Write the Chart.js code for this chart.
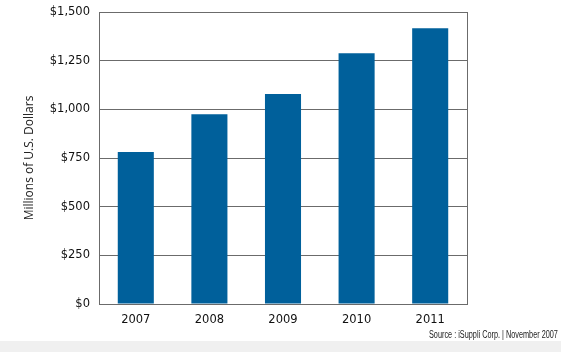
<!DOCTYPE html>
<html>
<head>
<meta charset="utf-8">
<script src="https://cdn.jsdelivr.net/npm/chart.js@4"></script>
<style>
    body { margin: 0; }
    #wrap {
        position: relative;
        width: 561px;
        height: 352px;
        background: linear-gradient(#ffffff 341px, #f0f0f0 341px);
    }
    #source {
        position: absolute;
        left: 429px;
        top: 329px;
        font-family: "Liberation Sans", sans-serif;
        font-size: 10px;
        color: #222;
        white-space: nowrap;
        transform: scaleX(0.73);
        transform-origin: left top;
    }
</style>
</head>
<body>
<div id="wrap">
    <canvas id="bar-chart" width="561" height="352"></canvas>
    <div id="source">Source : iSuppli Corp. | November 2007</div>
</div>
<script>
// Chart data
const years = ['2007', '2008', '2009', '2010', '2011'];
const revenue = [781, 975, 1079, 1288, 1416];
const yTicks = [0, 250, 500, 750, 1000, 1250, 1500];

// Box around the plot area
const frame = {
    id: 'frame',
    afterDraw(chart) {
        const a = chart.chartArea;
        const ctx = chart.ctx;
        ctx.save();
        ctx.strokeStyle = '#6b6b6b';
        ctx.lineWidth = 1;
        ctx.strokeRect(Math.round(a.left) + 0.5, Math.round(a.top) + 0.5,
            Math.round(a.right - a.left), Math.round(a.bottom - a.top));
        ctx.restore();
    }
};

new Chart(document.getElementById('bar-chart'), {
    type: 'bar',
    data: {
        labels: years,
        datasets: [{
            data: revenue,
            backgroundColor: '#00609b',
            borderWidth: 0,
            categoryPercentage: 1,
            barPercentage: 0.49
        }]
    },
    options: {
        responsive: false,
        animation: false,
        layout: { padding: { top: 12, right: 94, left: 22, bottom: 0 } },
        plugins: {
            legend: { display: false },
            tooltip: { enabled: false }
        },
        scales: {
            x: {
                grid: { display: false, drawTicks: false },
                border: { display: false },
                ticks: {
                    color: '#111',
                    padding: 9,
                    font: { family: 'DejaVu Sans', size: 11.5 }
                },
                afterFit(scale) { scale.height = 48; }
            },
            y: {
                min: 0,
                max: 1500,
                afterBuildTicks(scale) {
                    scale.ticks = yTicks.map(v => ({ value: v }));
                },
                grid: { color: '#6b6b6b', lineWidth: 1, drawTicks: false },
                border: { display: false },
                ticks: {
                    color: '#111',
                    padding: 9,
                    font: { family: 'DejaVu Sans', size: 11.5 },
                    callback: v => '$' + v.toLocaleString('en-US')
                },
                title: {
                    display: true,
                    text: 'Millions of U.S. Dollars',
                    color: '#222',
                    font: { family: 'Open Sans', size: 12 },
                    padding: { top: 0, bottom: 12 }
                },
                afterFit(scale) {
                    scale.width = 77;
                    scale.paddingTop = 0;
                    scale.paddingBottom = 0;
                }
            }
        }
    },
    plugins: [frame]
});
</script>
</body>
</html>
